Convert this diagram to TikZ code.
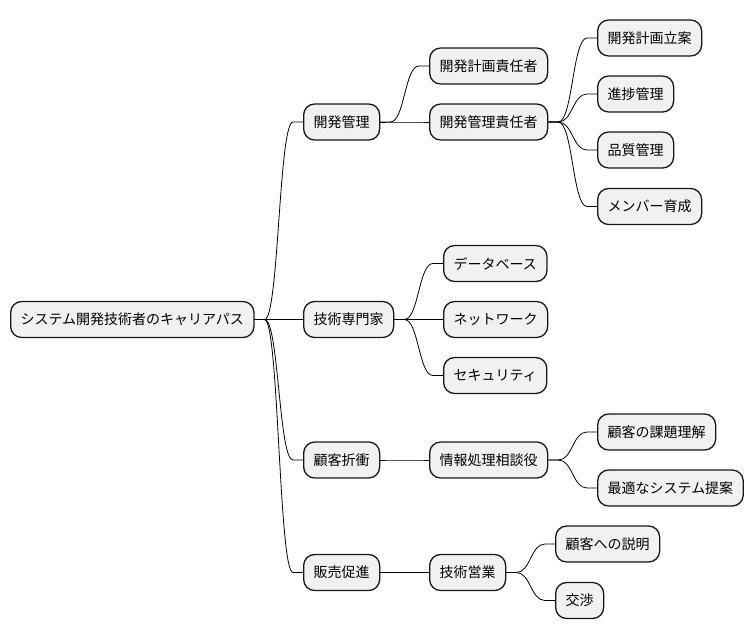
\documentclass[tikz,border=0pt]{standalone}
\usepackage{fontspec}
\setmainfont{Noto Sans CJK JP}
\usetikzlibrary{calc}
\definecolor{nodefill}{HTML}{F1F1F1}
\definecolor{nodeline}{HTML}{181818}
\tikzset{
  mm/.style={draw=nodeline, fill=nodefill, line width=1.3pt, rounded corners=11pt,
    minimum height=36pt, inner xsep=10pt, inner ysep=0pt, anchor=west,
    font=\fontsize{14}{16}\selectfont, text=black},
  conn/.style={draw=black, line width=0.8pt}
}
\newcommand{\mmconn}[2]{%
  \draw[conn] let \p1=(#1.east), \p2=(#2.west), \n1={(\x2-\x1-20pt)/2} in
    (\p1) -- (\x1+10pt,\y1) .. controls (\x1+10pt+\n1,\y1) and (\x2-10pt-\n1,\y2) .. (\x2-10pt,\y2) -- (\p2);}
\begin{document}
\begin{tikzpicture}[x=1pt,y=-1pt]
\useasboundingbox (0,0) rectangle (754,640);
\node[mm] (root) at (10,319.5) {システム開発技術者のキャリアパス};
\node[mm] (kk) at (303,122) {開発管理};
\node[mm] (kk1) at (429,66) {開発計画責任者};
\node[mm] (kk2) at (429,122) {開発管理責任者};
\node[mm] (kk21) at (597,38) {開発計画立案};
\node[mm] (kk22) at (597,94) {進捗管理};
\node[mm] (kk23) at (597,150) {品質管理};
\node[mm] (kk24) at (597,206.5) {メンバー育成};
\node[mm] (gs) at (303,319.5) {技術専門家};
\node[mm] (gs1) at (443,263.5) {データベース};
\node[mm] (gs2) at (443,319.5) {ネットワーク};
\node[mm] (gs3) at (443,375.5) {セキュリティ};
\node[mm] (ks) at (303,460) {顧客折衝};
\node[mm] (ks1) at (429,460) {情報処理相談役};
\node[mm] (ks11) at (597,432) {顧客の課題理解};
\node[mm] (ks12) at (597,488) {最適なシステム提案};
\node[mm] (hs) at (303,572.5) {販売促進};
\node[mm] (hs1) at (429,572.5) {技術営業};
\node[mm] (hs11) at (555,544) {顧客への説明};
\node[mm] (hs12) at (555,600.5) {交渉};
\mmconn{root}{kk}
\mmconn{root}{gs}
\mmconn{root}{ks}
\mmconn{root}{hs}
\mmconn{kk}{kk1}
\mmconn{kk}{kk2}
\mmconn{kk2}{kk21}
\mmconn{kk2}{kk22}
\mmconn{kk2}{kk23}
\mmconn{kk2}{kk24}
\mmconn{gs}{gs1}
\mmconn{gs}{gs2}
\mmconn{gs}{gs3}
\mmconn{ks}{ks1}
\mmconn{ks1}{ks11}
\mmconn{ks1}{ks12}
\mmconn{hs}{hs1}
\mmconn{hs1}{hs11}
\mmconn{hs1}{hs12}
\end{tikzpicture}
\end{document}
